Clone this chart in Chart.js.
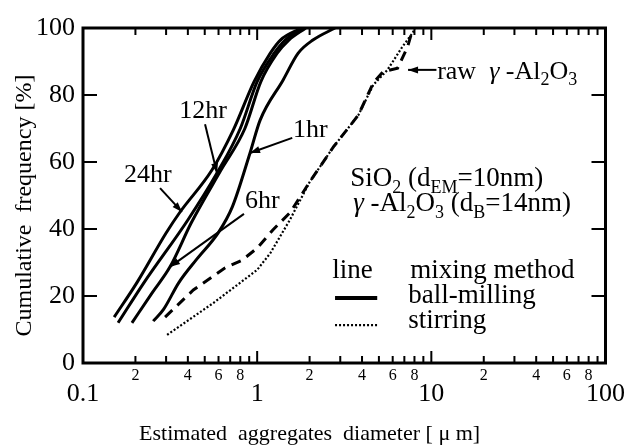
<!DOCTYPE html>
<html>
<head>
<meta charset="utf-8">
<script src="https://cdn.jsdelivr.net/npm/chart.js@4.4.0/dist/chart.umd.min.js"></script>
<style>
html, body { margin: 0; padding: 0; background: #fff; }
#wrap { width: 628px; height: 448px; }
</style>
</head>
<body>
<div id="wrap"><canvas id="canvas"></canvas></div>
<script>
// ball-milling, by milling time
var hr24X = [0.151, 0.204, 0.30, 0.36, 0.55, 0.73, 0.96, 1.19, 1.36, 1.8];
var hr24Y = [13.7, 24, 38.8, 45, 57.6, 69.6, 84, 92.5, 96.4, 100];
var hr12X = [0.159, 0.224, 0.40, 0.588, 0.80, 1.0, 1.25, 1.45, 1.85];
var hr12Y = [12, 24, 42.7, 56.7, 70, 84, 92.4, 96.4, 100];
var hr6X = [0.191, 0.25, 0.316, 0.42, 0.62, 0.85, 1.05, 1.3, 1.52, 1.9];
var hr6Y = [12, 21, 28.7, 42, 57.6, 70, 84, 92.4, 96.4, 100];
var hr1X = [0.253, 0.29, 0.355, 0.45, 0.6, 0.72, 0.91, 1.04, 1.41, 1.72, 2.09, 2.8];
var hr1Y = [12.5, 16, 24, 31, 39, 46.6, 62.7, 72.5, 84.5, 92.5, 96.4, 100];

// raw gamma-Al2O3 (dashed) and stirring (dotted)
var rawX = [0.296, 0.43, 0.655, 0.82, 1.0, 1.23, 1.55, 2.0, 2.74, 3.81, 4.64, 5.3, 6.4, 7.3, 7.8];
var rawY = [13.7, 21.8, 28.4, 30.7, 34.3, 39.7, 45, 54, 64.5, 74, 83.6, 87, 88, 94.3, 99.5];
var stirX = [0.304, 0.56, 1.0, 1.19, 1.54, 2.0, 2.74, 3.81, 4.64, 5.6, 6.8, 7.8, 8.1];
var stirY = [8.4, 17.9, 27.8, 32.8, 42.7, 54, 64.5, 74, 83, 87.5, 94.3, 98.5, 100];

// axis ticks
var xTickValues = [0.1, 0.2, 0.3, 0.4, 0.5, 0.6, 0.7, 0.8, 0.9,
                   1, 2, 3, 4, 5, 6, 7, 8, 9,
                   10, 20, 30, 40, 50, 60, 70, 80, 90, 100];
var decadeValues = [0.1, 1, 10, 100];
var decadeLabels = ['0.1', '1', '10', '100'];
var minorLabels = ['2', '4', '6', '8'];
var yTickValues = [0, 20, 40, 60, 80, 100];

var serif = '"Liberation Serif", "DejaVu Serif", serif';

function pts(xs, ys) {
    return xs.map(function(x, i) { return {x: x, y: ys[i]}; });
}

function isDecade(v) {
    return decadeValues.some(function(d) { return Math.abs(v - d) < d * 1e-6; });
}

function mantissa(v) {
    return Math.round(v / Math.pow(10, Math.floor(Math.log10(v) + 1e-9)));
}

function tickLabel(v) {
    for (var i = 0; i < decadeValues.length; i++) {
        if (Math.abs(v - decadeValues[i]) < decadeValues[i] * 1e-6) return decadeLabels[i];
    }
    var m = String(mantissa(v));
    return minorLabels.indexOf(m) >= 0 ? m : '';
}

function solid(label, xs, ys) {
    return {
        label: label, data: pts(xs, ys),
        borderColor: '#000', borderWidth: 3, pointRadius: 0, fill: false,
        cubicInterpolationMode: 'monotone'
    };
}

// drawn text with sub-scripts, positions in data units
var notes = [
    {x: 0.236, y: 54, size: 26, align: 'center', parts: [['24hr', '']]},
    {x: 0.489, y: 73.1, size: 26, align: 'center', parts: [['12hr', '']]},
    {x: 2.02, y: 67.5, size: 26, align: 'center', parts: [['1hr', '']]},
    {x: 1.07, y: 46.3, size: 26, align: 'center', parts: [['6hr', '']]},
    {x: 10.8, y: 84.8, size: 26, align: 'left', parts: [['raw  ', ''], ['\u03b3', 'i'], [' -Al', ''], ['2', 'sub'], ['O', ''], ['3', 'sub']]},
    {x: 3.42, y: 52.8, size: 27, align: 'left', parts: [['SiO', ''], ['2', 'sub'], [' (d', ''], ['EM', 'sub'], ['=10nm)', '']]},
    {x: 3.56, y: 45.4, size: 27, align: 'left', parts: [['\u03b3', 'i'], [' -Al', ''], ['2', 'sub'], ['O', ''], ['3', 'sub'], [' (d', ''], ['B', 'sub'], ['=14nm)', '']]},
    {x: 2.7, y: 25.4, size: 27, align: 'left', parts: [['line', '']]},
    {x: 7.57, y: 25.4, size: 27, align: 'left', parts: [['mixing method', '']]},
    {x: 7.38, y: 17.9, size: 27, align: 'left', parts: [['ball-milling', '']]},
    {x: 7.38, y: 10.4, size: 27, align: 'left', parts: [['stirring', '']]}
];

var arrows = [
    [0.277, 52.2, 0.37, 45.1],
    [0.502, 71.3, 0.588, 56.7],
    [1.59, 67.2, 0.91, 62.7],
    [0.84, 44.5, 0.316, 28.7],
    [10.7, 87.5, 7.35, 87.5]
];

var overlay = {
    id: 'overlay',
    afterDraw: function(chart) {
        var ctx = chart.ctx, a = chart.chartArea;
        var xs = chart.scales.x, ys = chart.scales.y;
        function px(v) { return xs.getPixelForValue(v); }
        function py(v) { return ys.getPixelForValue(v); }
        ctx.save();
        ctx.strokeStyle = '#000';
        ctx.fillStyle = '#000';

        // frame
        ctx.lineWidth = 3;
        ctx.strokeRect(a.left, a.top, a.right - a.left, a.bottom - a.top);

        // inward ticks
        ctx.lineWidth = 2;
        ctx.beginPath();
        xTickValues.forEach(function(v) {
            if (v === 0.1 || v === 100) return;
            var x = px(v), len = isDecade(v) ? 12 : 7;
            ctx.moveTo(x, a.bottom); ctx.lineTo(x, a.bottom - len);
            ctx.moveTo(x, a.top); ctx.lineTo(x, a.top + len);
        });
        yTickValues.forEach(function(v) {
            if (v === 0 || v === 100) return;
            var y = py(v);
            ctx.moveTo(a.left, y); ctx.lineTo(a.left + 14, y);
            ctx.moveTo(a.right, y); ctx.lineTo(a.right - 14, y);
        });
        ctx.stroke();

        // arrows
        arrows.forEach(function(r) {
            var x1 = px(r[0]), y1 = py(r[1]), x2 = px(r[2]), y2 = py(r[3]);
            ctx.lineWidth = 2;
            ctx.beginPath(); ctx.moveTo(x1, y1); ctx.lineTo(x2, y2); ctx.stroke();
            var ang = Math.atan2(y2 - y1, x2 - x1), L = 10, W = 3.5;
            var c = Math.cos(ang), s = Math.sin(ang);
            ctx.beginPath();
            ctx.moveTo(x2, y2);
            ctx.lineTo(x2 - L * c + W * s, y2 - L * s - W * c);
            ctx.lineTo(x2 - L * c - W * s, y2 - L * s + W * c);
            ctx.closePath(); ctx.fill();
        });

        // legend samples
        ctx.lineWidth = 4;
        ctx.beginPath(); ctx.moveTo(px(2.8), py(19.4)); ctx.lineTo(px(4.89), py(19.4)); ctx.stroke();
        ctx.lineWidth = 2.2;
        ctx.setLineDash([2, 2]);
        ctx.beginPath(); ctx.moveTo(px(2.8), py(11.3)); ctx.lineTo(px(4.89), py(11.3)); ctx.stroke();
        ctx.setLineDash([]);

        // texts
        ctx.textBaseline = 'alphabetic';
        ctx.textAlign = 'left';
        function fontFor(kind, size) {
            if (kind === 'sub') return Math.round(size * 0.68) + 'px ' + serif;
            if (kind === 'i') return 'italic ' + size + 'px ' + serif;
            return size + 'px ' + serif;
        }
        notes.forEach(function(n) {
            var w = 0;
            n.parts.forEach(function(p) { ctx.font = fontFor(p[1], n.size); w += ctx.measureText(p[0]).width; });
            var x = px(n.x) - (n.align === 'center' ? w / 2 : 0), y = py(n.y);
            n.parts.forEach(function(p) {
                ctx.font = fontFor(p[1], n.size);
                ctx.fillText(p[0], x, y + (p[1] === 'sub' ? n.size * 0.25 : 0));
                x += ctx.measureText(p[0]).width;
            });
        });

        // axis titles
        ctx.font = '22px ' + serif;
        ctx.textAlign = 'center';
        ctx.fillText('Estimated  aggregates  diameter [ \u03bc m]', px(2.0), 440);
        ctx.save();
        ctx.translate(25, py(47));
        ctx.rotate(-Math.PI / 2);
        ctx.font = '24px ' + serif;
        ctx.textBaseline = 'middle';
        ctx.fillText('Cumulative  frequency [%]', 0, 0);
        ctx.restore();
        ctx.restore();
    }
};

window.onload = function() {
    var ctx = document.getElementById('canvas').getContext('2d');
    window.myChart = new Chart(ctx, {
        type: 'line',
        data: {
            datasets: [
                solid('24hr', hr24X, hr24Y),
                solid('12hr', hr12X, hr12Y),
                solid('6hr', hr6X, hr6Y),
                solid('1hr', hr1X, hr1Y),
                {
                    label: 'raw', data: pts(rawX, rawY),
                    borderColor: '#000', borderWidth: 3, borderDash: [10, 7],
                    pointRadius: 0, fill: false, tension: 0
                },
                {
                    label: 'stirring', data: pts(stirX, stirY),
                    borderColor: '#000', borderWidth: 2.2, borderDash: [2, 2],
                    pointRadius: 0, fill: false, tension: 0
                }
            ]
        },
        options: {
            responsive: true,
            maintainAspectRatio: false,
            animation: false,
            layout: {padding: {top: 28, right: 22, left: 0, bottom: 0}},
            plugins: {legend: {display: false}, tooltip: {enabled: false}},
            scales: {
                x: {
                    type: 'logarithmic', min: 0.1, max: 100,
                    grid: {display: false, drawTicks: false},
                    border: {display: false},
                    afterBuildTicks: function(scale) {
                        scale.ticks = xTickValues.map(function(v) { return {value: v}; });
                    },
                    afterFit: function(scale) { scale.height = 85; },
                    ticks: {
                        autoSkip: false, maxRotation: 0, minRotation: 0, padding: 3,
                        color: '#000',
                        callback: function(v) { return tickLabel(v); },
                        font: function(c) {
                            var v = c.tick ? c.tick.value : 1;
                            return isDecade(v)
                                ? {family: serif, size: 26, lineHeight: 2.15}
                                : {family: serif, size: 16, lineHeight: 1.2};
                        }
                    }
                },
                y: {
                    min: 0, max: 100,
                    grid: {display: false, drawTicks: false},
                    border: {display: false},
                    afterFit: function(scale) { scale.width = 83; },
                    ticks: {stepSize: 20, padding: 8, color: '#000', font: {family: serif, size: 26}}
                }
            }
        },
        plugins: [overlay]
    });
};
</script>
</body>
</html>
